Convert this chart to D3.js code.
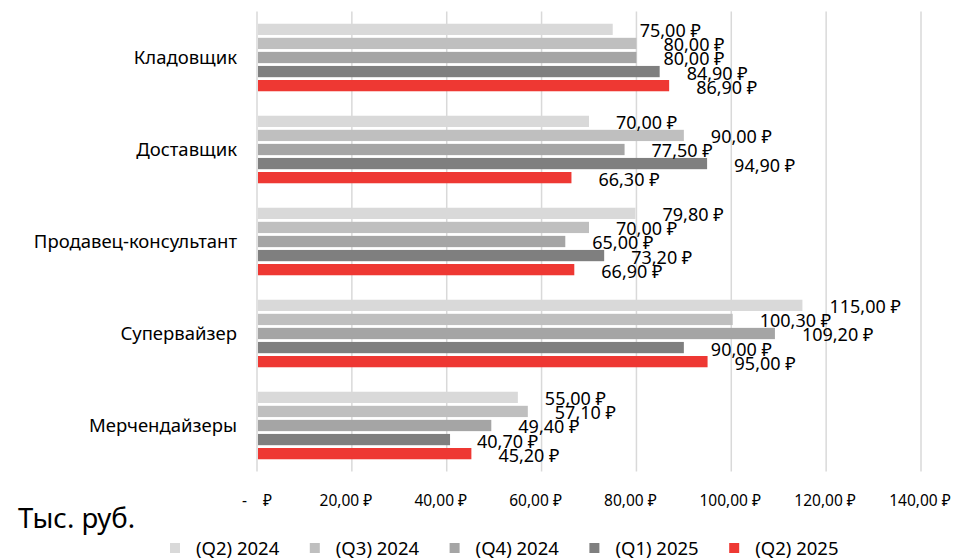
<!DOCTYPE html>
<html>
<head>
<meta charset="utf-8">
<script src="https://cdn.jsdelivr.net/npm/d3@7"></script>
<style>
  html, body { margin: 0; padding: 0; background: #fff; }
  svg { display: block; font-family: "Noto Sans", "DejaVu Sans", sans-serif; }
</style>
</head>
<body>
<svg id="chart" width="963" height="559"></svg>
<script>
const categories = ["Кладовщик", "Доставщик", "Продавец-консультант", "Супервайзер", "Мерчендайзеры"];
const seriesNames = ["(Q2) 2024", "(Q3) 2024", "(Q4) 2024", "(Q1) 2025", "(Q2) 2025"];
const seriesColors = ["#d9d9d9", "#bfbfbf", "#a5a5a5", "#7f7f7f", "#ee3833"];
const q2_2024 = [75.0, 70.0, 79.8, 115.0, 55.0];
const q3_2024 = [80.0, 90.0, 70.0, 100.3, 57.1];
const q4_2024 = [80.0, 77.5, 65.0, 109.2, 49.4];
const q1_2025 = [84.9, 94.9, 73.2, 90.0, 40.7];
const q2_2025 = [86.9, 66.3, 66.9, 95.0, 45.2];
const seriesValues = [q2_2024, q3_2024, q4_2024, q1_2025, q2_2025];
const xTicks = [0, 20, 40, 60, 80, 100, 120, 140];
const axisTitle = "Тыс. руб.";

const svg = d3.select("#chart");
const plotLeft = 257, plotRight = 921, plotTop = 11.5, plotBottom = 471.5;

const x = d3.scaleLinear().domain([0, 140]).range([plotLeft, plotRight]);
const y = d3.scaleBand().domain(categories).range([plotTop, plotBottom]).paddingInner(0.266).paddingOuter(0.133);
const ys = d3.scaleBand().domain(d3.range(seriesNames.length)).range([0, y.bandwidth()]).paddingInner(0.2);

const loc = d3.formatLocale({decimal: ",", thousands: " ", grouping: [3], currency: ["", " ₽"]});
const fmt = v => loc.format(".2f")(v) + " ₽";

// gridlines
svg.append("g").selectAll("line").data(xTicks).join("line")
  .attr("x1", d => x(d)).attr("x2", d => x(d))
  .attr("y1", plotTop).attr("y2", plotBottom)
  .attr("stroke", "#d9d9d9").attr("stroke-width", 1.5);

// bars
const rows = [];
seriesValues.forEach((vals, si) => vals.forEach((v, ci) => rows.push({si, ci, v})));

svg.append("g").selectAll("rect").data(rows).join("rect")
  .attr("x", x(0) + 1)
  .attr("y", d => y(categories[d.ci]) + ys(d.si))
  .attr("width", d => x(d.v) - x(0) - 1)
  .attr("height", ys.bandwidth())
  .attr("fill", d => seriesColors[d.si]);

// data labels
svg.append("g").selectAll("text").data(rows).join("text")
  .attr("x", d => x(d.v) + 27)
  .attr("y", d => y(categories[d.ci]) + ys(d.si) + ys.bandwidth() / 2 + 1.5)
  .attr("dy", "0.36em")
  .attr("font-size", 18)
  .attr("fill", "#000")
  .text(d => fmt(d.v));

// category labels
svg.append("g").selectAll("text").data(categories).join("text")
  .attr("x", 237)
  .attr("y", d => y(d) + y.bandwidth() / 2)
  .attr("dy", "0.36em")
  .attr("text-anchor", "end")
  .attr("font-size", 18.5)
  .attr("fill", "#000")
  .text(d => d);

// x tick labels
svg.append("g").selectAll("text").data(xTicks).join("text")
  .attr("x", d => x(d) + (d === 0 ? 0 : (d < 100 ? -6 : -1)))
  .attr("y", 500)
  .attr("dy", "0.36em")
  .attr("text-anchor", "middle")
  .attr("font-size", 15.5)
  .attr("fill", "#000")
  .style("white-space", "pre")
  .text(d => d === 0 ? "-    ₽" : fmt(d));

// axis title
svg.append("text")
  .attr("x", 18).attr("y", 518).attr("dy", "0.36em")
  .attr("font-size", 27.5).attr("fill", "#000")
  .text(axisTitle);

// legend
const lg = svg.append("g").selectAll("g").data(seriesNames).join("g")
  .attr("transform", (d, i) => `translate(${175 + i * 139.8},548)`);
lg.append("rect").attr("x", -5).attr("y", -5).attr("width", 10).attr("height", 10)
  .attr("fill", (d, i) => seriesColors[i]);
lg.append("text").attr("x", 21).attr("dy", "0.36em")
  .attr("font-size", 18.5).attr("fill", "#000")
  .text(d => d);
</script>
</body>
</html>
